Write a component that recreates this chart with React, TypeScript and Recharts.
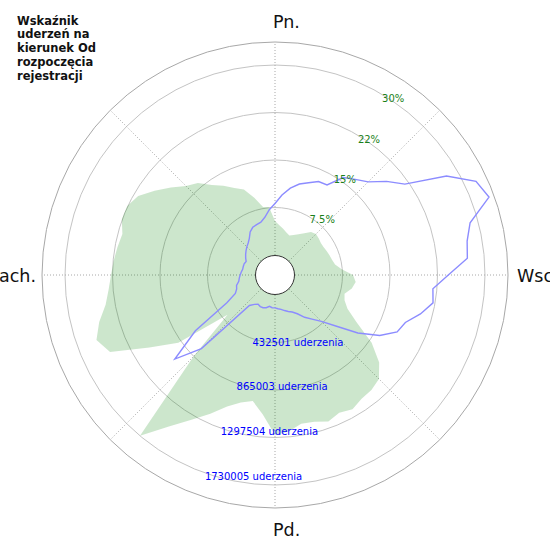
import React from 'react';
import {
  RadarChart,
  Radar,
  PolarGrid,
  PolarAngleAxis,
  PolarRadiusAxis,
  Customized,
} from 'recharts';

// kierunek (stopnie, od północy zgodnie z ruchem wskazówek)
const DIRECTIONS = [
  0, 5, 10, 15, 20, 25, 30, 35, 40, 45, 50, 55, 60, 65, 70, 75, 80, 85,
  90, 95, 100, 105, 110, 115, 120, 125, 130, 135, 140, 145, 150, 155, 160, 165, 170, 175,
  180, 185, 190, 195, 200, 205, 210, 215, 220, 225, 230, 235, 240, 245, 250, 255, 260, 265,
  270, 275, 280, 285, 290, 295, 300, 305, 310, 315, 320, 325, 330, 335, 340, 345, 350, 355,
];

// liczba uderzeń na kierunek
const STRIKES = [
  309580, 273160, 245840, 218530, 200320, 218530, 245840, 282270, 327790, 346000, 336900, 327790,
  327790, 336900, 346000, 355110, 373320, 427950, 528100, 555420, 528100, 473480, 491690, 546320,
  673790, 892320, 1056210, 1156370, 1183690, 1192790, 1229210, 1201900, 1238320, 1201900, 1192790, 1247430,
  1274740, 1092640, 983370, 1019790, 1092640, 1211000, 1338480, 1502380, 1730005, 864990, 382420, 892320,
  1138160, 1475060, 1547900, 1475060, 1384000, 1338480, 1311170, 1292950, 1274740, 1256530, 1302060, 1302060,
  1256530, 1156370, 1056210, 965160, 910530, 819480, 755740, 692000, 646480, 546320, 446160, 437050,
];

// udział procentowy kierunku
const SHARE = [
  8.21, 9.63, 10.89, 11.84, 12.47, 13.26, 13.42, 15.79, 16.74, 17.84, 20.05, 22.11,
  28.42, 32.21, 33.16, 29.05, 27.95, 27.63, 24.47, 22.11, 22.42, 20.84, 18.95, 18.32,
  16.11, 12.95, 9.47, 7.26, 6.0, 5.05, 3.95, 3.32, 3.0, 2.68, 2.37, 2.21,
  2.05, 2.05, 1.89, 2.21, 2.37, 2.37, 2.21, 2.53, 3.16, 13.42, 17.68, 12.32,
  5.68, 3.79, 3.32, 3.16, 2.68, 2.53, 2.37, 2.21, 2.05, 2.05, 2.05, 1.89,
  2.21, 2.53, 2.84, 3.16, 3.47, 3.95, 4.74, 5.21, 5.37, 5.53, 6.16, 7.26,
];

const COUNT_TICKS = [432501, 865003, 1297504, 1730005];
const PCT_TICKS = [7.5, 15, 22.5, 30];
const PCT_LABELS = ['7.5%', '15%', '22%', '30%'];
const COMPASS: Record<number, string> = { 0: 'Pn.', 90: 'Wsch.', 180: 'Pd.', 270: 'Zach.' };
const SPOKES = [0, 45, 90, 135, 180, 225, 270, 315];
const TITLE = ['Wskaźnik', 'uderzeń na', 'kierunek Od', 'rozpoczęcia', 'rejestracji'];

const data = DIRECTIONS.map((dir, i) => ({ dir, strikes: STRIKES[i], share: SHARE[i] }));

const CX = 275;
const CY = 275;
const INNER = 20;
const OUTER = 233;
const RANGE = 213 / 190; // zapas skali ponad ostatni pierścień
const FONT = '"DejaVu Sans", sans-serif';

const CompassTick = (props: any) => {
  const label = COMPASS[props.payload.value];
  if (!label) return <g />;
  const pos: Record<string, [number, number, string]> = {
    'Pn.': [CX - 2, CY - 247, 'start'],
    'Wsch.': [CX + 242, CY + 7, 'start'],
    'Pd.': [CX - 2, CY + 261, 'start'],
    'Zach.': [CX - 239, CY + 7, 'end'],
  };
  const [x, y, anchor] = pos[label];
  return (
    <text x={x} y={y} textAnchor={anchor} fontSize={17.5} fontFamily={FONT} fill="#111">
      {label}
    </text>
  );
};

const CountTick = (props: any) => (
  <text
    x={props.x}
    y={props.y + 3.5}
    textAnchor="start"
    dominantBaseline="central"
    fontSize={10}
    fontFamily={FONT}
    fill="#0000ff"
  >
    {`${props.payload.value} uderzenia`}
  </text>
);

const PctTick = (props: any) => (
  <text
    x={props.x}
    y={props.y + 2}
    textAnchor="start"
    dominantBaseline="central"
    fontSize={10}
    fontFamily={FONT}
    fill="#1a7f1a"
  >
    {PCT_LABELS[PCT_TICKS.indexOf(props.payload.value)]}
  </text>
);

const Title = () => (
  <text fontSize={11.5} fontWeight="bold" fontFamily={FONT} fill="#111">
    {TITLE.map((line, i) => (
      <tspan key={i} x={17} y={24.5 + i * 13.9}>
        {line}
      </tspan>
    ))}
  </text>
);

export default function App() {
  return (
    <div style={{ position: 'absolute', left: 0, top: 0, width: 550, height: 550, background: '#fff' }}>
      <RadarChart
        width={550}
        height={550}
        cx={CX}
        cy={CY}
        innerRadius={INNER}
        outerRadius={OUTER}
        startAngle={90}
        endAngle={-270}
        data={data}
        margin={{ top: 0, right: 0, bottom: 0, left: 0 }}
      >
        <PolarGrid radiusAxisId="count" gridType="circle" radialLines={false} stroke="#c4c4c4" />
        <PolarGrid
          radiusAxisId="count"
          gridType="circle"
          polarAngles={SPOKES.map((d) => 90 - d)}
          polarRadius={[]}
          stroke="#a8a8a8"
          strokeDasharray="1 2"
        />
        <Radar
          dataKey="strikes"
          radiusAxisId="count"
          fill="#008000"
          fillOpacity={0.2}
          stroke="none"
          isAnimationActive={false}
        />
        <PolarAngleAxis
          dataKey="dir"
          tick={CompassTick}
          tickLine={false}
          axisLineType="circle"
          axisLine={{ stroke: '#a8a8a8' }}
        />
        <PolarRadiusAxis
          radiusAxisId="count"
          angle={90 - 199.5}
          domain={[0, COUNT_TICKS[3] * RANGE]}
          ticks={COUNT_TICKS}
          tick={CountTick}
          axisLine={false}
          tickLine={false}
        />
        <PolarRadiusAxis
          radiusAxisId="pct"
          angle={90 - 31}
          domain={[0, PCT_TICKS[3] * RANGE]}
          ticks={PCT_TICKS}
          tick={PctTick}
          axisLine={false}
          tickLine={false}
        />
        <Radar
          dataKey="share"
          radiusAxisId="pct"
          fill="none"
          fillOpacity={0}
          stroke="#8c8cff"
          strokeWidth={1.4}
          isAnimationActive={false}
        />
        <Customized component={Title} />
      </RadarChart>
      <div
        style={{
          position: 'absolute',
          left: CX - INNER,
          top: CY - INNER,
          width: INNER * 2,
          height: INNER * 2,
          boxSizing: 'border-box',
          borderRadius: '50%',
          border: '1px solid #333',
          background: '#fff',
        }}
      />
    </div>
  );
}
